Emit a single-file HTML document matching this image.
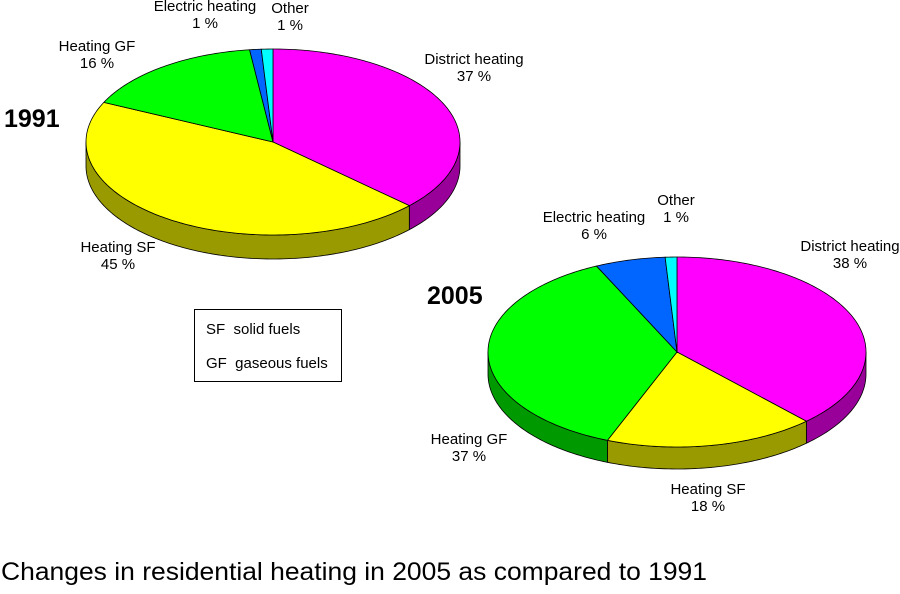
<!DOCTYPE html>
<html><head><meta charset="utf-8"><style>
body{margin:0;background:#fff;}
svg{display:block;font-family:"Liberation Sans",Arial,sans-serif;}
</style></head><body>
<svg id="s" width="900" height="594" viewBox="0 0 900 594" xmlns="http://www.w3.org/2000/svg">
<g id="g"></g>
<g font-size="15" fill="#000" text-anchor="middle">
<text x="205" y="11">Electric heating</text><text x="205" y="28">1 %</text>
<text x="290" y="13">Other</text><text x="290" y="30">1 %</text>
<text x="97" y="51">Heating GF</text><text x="97" y="68">16 %</text>
<text x="474" y="64">District heating</text><text x="474" y="81">37 %</text>
<text x="118" y="252">Heating SF</text><text x="118" y="269">45 %</text>
<text x="594" y="222">Electric heating</text><text x="594" y="239">6 %</text>
<text x="676" y="205">Other</text><text x="676" y="222">1 %</text>
<text x="850" y="251">District heating</text><text x="850" y="268">38 %</text>
<text x="469" y="444">Heating GF</text><text x="469" y="461">37 %</text>
<text x="708" y="494">Heating SF</text><text x="708" y="511">18 %</text>
</g>
<text x="4" y="127" font-size="25" font-weight="bold">1991</text>
<text x="427" y="304" font-size="25" font-weight="bold">2005</text>
<rect x="194.5" y="309.5" width="147" height="72" fill="#fff" stroke="#000" stroke-width="1"/>
<text x="206" y="334" font-size="15">SF&#160; solid fuels</text>
<text x="206" y="368" font-size="15">GF&#160; gaseous fuels</text>
<text x="1" y="580" font-size="25" textLength="706" lengthAdjust="spacingAndGlyphs">Changes in residential heating in 2005 as compared to 1991</text>
</svg>
<script>
var g=document.getElementById('g'),NS="http://www.w3.org/2000/svg";
function P(cx,cy,rx,ry,t,dy){t=t*Math.PI/180;return [cx+rx*Math.sin(t),cy-ry*Math.cos(t)+(dy||0)];}
function add(d,f){var p=document.createElementNS(NS,'path');p.setAttribute('d',d);p.setAttribute('fill',f);p.setAttribute('stroke','#000');p.setAttribute('stroke-width','0.8');p.setAttribute('stroke-linejoin','round');g.appendChild(p);}
function arc(cx,cy,rx,ry,a,b,dy){var s="";for(var t=a;t<=b+1e-9;t+=Math.min(1,b-t||1)){var q=P(cx,cy,rx,ry,t,dy);s+=" L"+q[0].toFixed(2)+" "+q[1].toFixed(2);if(t==b)break;if(t+1>b&&t<b){t=b-1;}}return s;}
function pie(cx,cy,rx,ry,dep,sl){
 var a=0,list=[];
 sl.forEach(function(s){var b=a+s[0]*3.6;list.push([a,b,s[1],s[2]]);a=b;});
 list.forEach(function(l){var a1=Math.max(l[0],90),b1=Math.min(l[1],270);if(b1>a1){
  var d="M"+P(cx,cy,rx,ry,a1).join(" ")+arc(cx,cy,rx,ry,a1,b1)+" L"+P(cx,cy,rx,ry,b1,dep).join(" ");
  var back="";for(var t=b1;t>=a1-1e-9;t-=1){var q=P(cx,cy,rx,ry,t,dep);back+=" L"+q[0].toFixed(2)+" "+q[1].toFixed(2);}
  var q=P(cx,cy,rx,ry,a1,dep);back+=" L"+q[0]+" "+q[1];
  add(d+back+" Z",l[3]);}});
 list.forEach(function(l){add("M"+cx+" "+cy+" L"+P(cx,cy,rx,ry,l[0]).join(" ")+arc(cx,cy,rx,ry,l[0],l[1])+" Z",l[2]);});
}
pie(273,142,187,93,24,[[37,"#ff00ff","#990099"],[45,"#ffff00","#999900"],[16,"#00ff00","#009900"],[1,"#0066ff","#003d99"],[1,"#00ffff","#009999"]]);
pie(677,352,189,95,22,[[38,"#ff00ff","#990099"],[18,"#ffff00","#999900"],[37,"#00ff00","#009900"],[6,"#0066ff","#003d99"],[1,"#00ffff","#009999"]]);
</script>
</body></html>
